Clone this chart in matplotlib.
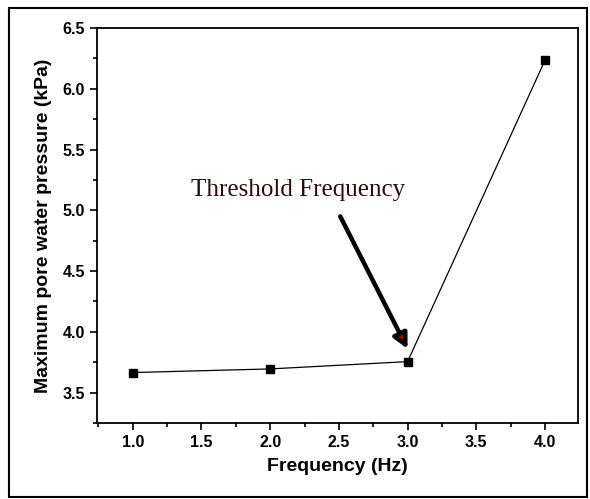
import matplotlib.pyplot as plt
from matplotlib.patches import Rectangle
from matplotlib.ticker import MultipleLocator

# data
freq = [1.0, 2.0, 3.0, 4.0]
pwp = [3.665, 3.695, 3.755, 6.235]

fig = plt.figure(figsize=(5.9, 4.99), dpi=100)
ax = fig.add_axes([97 / 590, 1 - 423 / 499, (578 - 97) / 590, (423 - 28) / 499])

ax.plot(freq, pwp, color='black', lw=0.9, marker='s', ms=5.5, mfc='black', mec='black')

ax.set_xlim(0.74, 4.24)
ax.set_ylim(3.25, 6.5)
ax.xaxis.set_major_locator(MultipleLocator(0.5))
ax.xaxis.set_minor_locator(MultipleLocator(0.25))
ax.yaxis.set_major_locator(MultipleLocator(0.5))
ax.yaxis.set_minor_locator(MultipleLocator(0.25))
ax.tick_params(which='both', direction='out', top=False, right=False, width=1.2)
ax.tick_params(which='major', length=5, labelsize=11.5)
ax.tick_params(which='minor', length=3)
for lab in ax.get_xticklabels() + ax.get_yticklabels():
    lab.set_fontweight('bold')
    lab.set_family('Liberation Sans')
for s in ax.spines.values():
    s.set_linewidth(1.3)

ax.set_xlabel('Frequency (Hz)', fontsize=14, fontweight='bold', family='Liberation Sans', labelpad=6)
ax.set_ylabel('Maximum pore water pressure (kPa)', fontsize=14, fontweight='bold',
              family='Liberation Sans', labelpad=8)

ax.text(2.2, 5.17, 'Threshold Frequency', fontsize=18, family='Liberation Serif',
        color='#2a0c0c', ha='center', va='center')
ax.annotate('', xy=(3.0, 3.86), xytext=(2.51, 4.95),
            arrowprops=dict(arrowstyle='-|>', lw=3.2, edgecolor='black', facecolor='#a00000',
                            mutation_scale=22, shrinkA=0, shrinkB=0))

# outer frame round the figure
fig.patches.append(Rectangle((9 / 590, 2 / 499), 578 / 590, 489 / 499, transform=fig.transFigure,
                             fill=False, edgecolor='black', lw=1.5))

fig.savefig('out.png', dpi=100)
